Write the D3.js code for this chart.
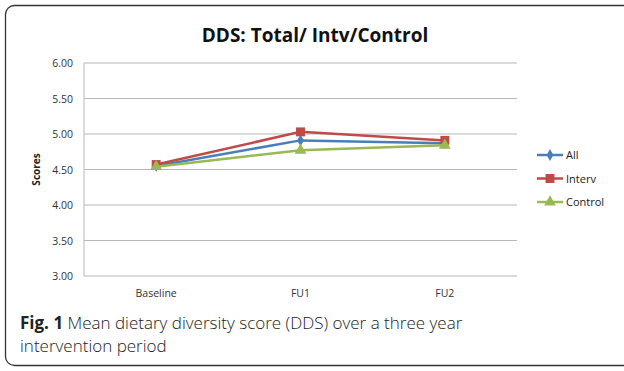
<!DOCTYPE html>
<html>
<head>
<meta charset="utf-8">
<script src="https://cdn.jsdelivr.net/npm/d3@7"></script>
<style>
  body { margin: 0; background: #fff; }
</style>
</head>
<body>
<div id="chart"></div>
<script>
// categories and series
var categories = ["Baseline", "FU1", "FU2"];
var allScores = [4.55, 4.91, 4.87];
var intervScores = [4.57, 5.03, 4.91];
var controlScores = [4.54, 4.77, 4.84];
var yTicks = [3.00, 3.50, 4.00, 4.50, 5.00, 5.50, 6.00];
var seriesNames = ["All", "Interv", "Control"];

var series = [
  {name: seriesNames[0], values: allScores, color: "#4a7ebb", symbol: d3.symbolDiamond, size: 40},
  {name: seriesNames[1], values: intervScores, color: "#be4b48", symbol: d3.symbolSquare, size: 80},
  {name: seriesNames[2], values: controlScores, color: "#98b954", symbol: d3.symbolTriangle, size: 60}
];

var width = 624, height = 371;
var plot = {left: 84, right: 517, top: 63, bottom: 276};

var svg = d3.select("#chart").append("svg")
    .attr("width", width)
    .attr("height", height);

// outer frame
svg.append("rect")
    .attr("x", 5.5).attr("y", 5.5)
    .attr("width", 640).attr("height", 360)
    .attr("rx", 9)
    .style("fill", "none")
    .style("stroke", "#333")
    .style("stroke-width", 1.3);

var x = d3.scaleBand()
    .domain(categories)
    .range([plot.left, plot.right]);

var y = d3.scaleLinear()
    .domain([3, 6])
    .range([plot.bottom, plot.top]);

// gridlines
svg.append("g")
    .selectAll("line")
    .data(yTicks)
    .enter().append("line")
    .attr("x1", plot.left).attr("x2", plot.right)
    .attr("y1", function(d) { return y(d); })
    .attr("y2", function(d) { return y(d); })
    .style("stroke", "#b8b8b8")
    .style("stroke-width", 1);

// y axis line
svg.append("line")
    .attr("x1", plot.left).attr("x2", plot.left)
    .attr("y1", plot.top).attr("y2", plot.bottom)
    .style("stroke", "#b8b8b8");

// y tick labels
svg.append("g")
    .selectAll("text")
    .data(yTicks)
    .enter().append("text")
    .attr("x", plot.left - 11)
    .attr("y", function(d) { return y(d) + 4; })
    .attr("text-anchor", "end")
    .style("font-family", "Open Sans, sans-serif")
    .style("font-size", "10.5px")
    .style("fill", "#333")
    .text(function(d) { return d.toFixed(2); });

// x tick labels
svg.append("g")
    .selectAll("text")
    .data(categories)
    .enter().append("text")
    .attr("x", function(d) { return x(d) + x.bandwidth() / 2; })
    .attr("y", plot.bottom + 21)
    .attr("text-anchor", "middle")
    .style("font-family", "Open Sans, sans-serif")
    .style("font-size", "10.5px")
    .style("fill", "#333")
    .text(function(d) { return d; });

// y axis title
svg.append("text")
    .attr("transform", "translate(40," + ((plot.top + plot.bottom) / 2) + ") rotate(-90)")
    .attr("text-anchor", "middle")
    .style("font-family", "Open Sans, sans-serif")
    .style("font-size", "10px")
    .style("font-weight", "bold")
    .style("fill", "#222")
    .text("Scores");

// title
svg.append("text")
    .attr("x", 315)
    .attr("y", 42)
    .attr("text-anchor", "middle")
    .style("font-family", "Open Sans, sans-serif")
    .style("font-size", "19px")
    .style("font-weight", "bold")
    .style("fill", "#111")
    .text("DDS: Total/ Intv/Control");

var line = d3.line()
    .x(function(d, i) { return x(categories[i]) + x.bandwidth() / 2; })
    .y(function(d) { return y(d); });

var g = svg.selectAll(".series")
    .data(series)
    .enter().append("g")
    .attr("class", "series");

g.append("path")
    .attr("d", function(d) { return line(d.values); })
    .style("fill", "none")
    .style("stroke", function(d) { return d.color; })
    .style("stroke-width", 2.5);

g.each(function(s) {
  d3.select(this).selectAll("path.mark")
      .data(s.values)
      .enter().append("path")
      .attr("class", "mark")
      .attr("transform", function(d, i) {
        return "translate(" + (x(categories[i]) + x.bandwidth() / 2) + "," + y(d) + ")";
      })
      .attr("d", d3.symbol().type(s.symbol).size(s.size))
      .style("fill", s.color);
});

// legend
var legend = svg.selectAll(".legend")
    .data(series)
    .enter().append("g")
    .attr("class", "legend")
    .attr("transform", function(d, i) { return "translate(537," + (155 + i * 23.5) + ")"; });

legend.append("line")
    .attr("x1", 0).attr("x2", 26)
    .style("stroke", function(d) { return d.color; })
    .style("stroke-width", 2.5);

legend.append("path")
    .attr("transform", "translate(13,0)")
    .attr("d", function(d) { return d3.symbol().type(d.symbol).size(d.size)(); })
    .style("fill", function(d) { return d.color; });

legend.append("text")
    .attr("x", 29)
    .attr("y", 4)
    .style("font-family", "Open Sans, sans-serif")
    .style("font-size", "11px")
    .style("fill", "#222")
    .text(function(d) { return d.name; });

// caption
var cap = svg.append("text")
    .attr("x", 20)
    .attr("y", 329)
    .style("font-family", "Open Sans, sans-serif")
    .style("font-size", "17px")
    .style("fill", "#222");
cap.append("tspan").style("font-weight", "bold").text("Fig. 1");
cap.append("tspan").style("font-weight", "300").text(" Mean dietary diversity score (DDS) over a three year");

svg.append("text")
    .attr("x", 20)
    .attr("y", 352)
    .style("font-family", "Open Sans, sans-serif")
    .style("font-size", "17px")
    .style("font-weight", "300")
    .style("fill", "#222")
    .text("intervention period");
</script>
</body>
</html>
